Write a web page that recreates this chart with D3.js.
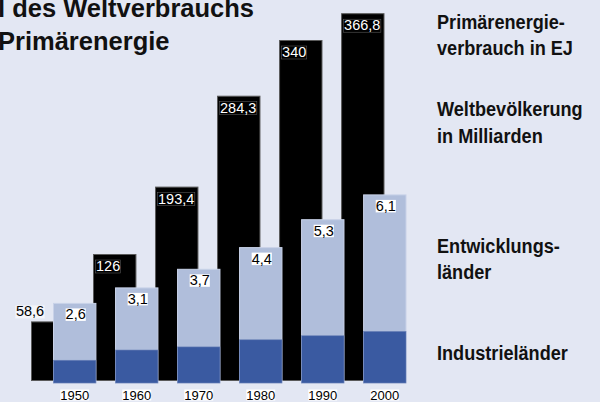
<!DOCTYPE html>
<html><head><meta charset="utf-8">
<script src="https://cdn.jsdelivr.net/npm/d3@7"></script>
<style>
html,body{margin:0;padding:0;background:#e3e7f3;}
svg{display:block;}
</style></head>
<body>
<script>
const years = ["1950","1960","1970","1980","1990","2000"];
const energy = [58.6, 126, 193.4, 284.3, 340, 366.8];
const population = [2.6, 3.1, 3.7, 4.4, 5.3, 6.1];
const industrial = [0.75, 1.08, 1.18, 1.41, 1.54, 1.68];
const energyLabels = ["58,6","126","193,4","284,3","340","366,8"];
const popLabels = ["2,6","3,1","3,7","4,4","5,3","6,1"];
const titleLines = ["l des Weltverbrauchs", "Primärenergie"];
const legendEnergy = ["Primärenergie-", "verbrauch in EJ"];
const legendPop = ["Weltbevölkerung", "in Milliarden"];
const legendDev = ["Entwicklungs-", "länder"];
const legendInd = ["Industrieländer"];

const W = 600, H = 402;
const svg = d3.select("body").append("svg").attr("width", W).attr("height", H);
svg.append("rect").attr("width", W).attr("height", H).attr("fill", "#e3e7f3");

const x = d3.scaleBand().domain(years).range([53, 406.5]).paddingInner(0.3).paddingOuter(0);
const bw = x.bandwidth();
const offset = 22;
const yE = d3.scaleLinear().domain([0, 380]).range([380, 0]);
const yP = d3.scaleLinear().domain([0, 10]).range([383.5, 383.5 - 310]);

// black energy bars
svg.selectAll("rect.energy").data(years).join("rect")
  .attr("class","energy")
  .attr("x", d => x(d) - offset + 0.5)
  .attr("y", (d,i) => yE(energy[i]) + 0.5)
  .attr("width", bw - 1)
  .attr("height", (d,i) => yE(0) - yE(energy[i]))
  .attr("fill", "#000").attr("stroke", "#5a5a5a").attr("stroke-width", 1);

// energy labels
years.forEach((yr, i) => {
  const left = x(yr) - offset;
  const top = yE(energy[i]);
  const inside = energy[i] > 100;
  const g = svg.append("g");
  const t = g.append("text")
    .attr("font-family", "Liberation Sans, Arial, sans-serif")
    .attr("font-size", 14.5)
    .text(energyLabels[i]);
  if (inside) {
    t.attr("x", left + 3).attr("y", top + 17).attr("fill", "#fff");
    const bb = t.node().getBBox();
    g.insert("rect", "text").attr("x", bb.x - 0.5).attr("y", top + 6)
      .attr("width", bb.width + 1).attr("height", 13)
      .attr("fill", "#000").attr("stroke", "#666").attr("stroke-width", 0.5);
  } else {
    t.attr("x", left - 1).attr("y", top - 5).attr("text-anchor", "middle").attr("fill", "#000");
    const bb = t.node().getBBox();
    g.insert("rect", "text").attr("x", bb.x - 0.5).attr("y", top - 16)
      .attr("width", bb.width + 1).attr("height", 13)
      .attr("fill", "#f4f5fa");
  }
});

// population bars (light = developing, dark = industrial)
svg.selectAll("rect.pop").data(years).join("rect")
  .attr("class","pop")
  .attr("x", d => x(d) + 0.5)
  .attr("y", (d,i) => yP(population[i]) + 0.5)
  .attr("width", bw - 1)
  .attr("height", (d,i) => yP(0) - yP(population[i]) - 1)
  .attr("fill", "#b0bedb").attr("stroke", "#c9d2e8").attr("stroke-width", 1);

svg.selectAll("rect.ind").data(years).join("rect")
  .attr("class","ind")
  .attr("x", d => x(d) + 0.5)
  .attr("y", (d,i) => yP(industrial[i]))
  .attr("width", bw - 1)
  .attr("height", (d,i) => yP(0) - yP(industrial[i]) - 0.5)
  .attr("fill", "#3a5aa1").attr("stroke", "#6b82b8").attr("stroke-width", 0.6);

// population labels
years.forEach((yr, i) => {
  const cx = x(yr) + bw / 2 + 1;
  const top = yP(population[i]);
  const g = svg.append("g");
  const t = g.append("text")
    .attr("x", cx).attr("y", top + 16.5)
    .attr("text-anchor", "middle")
    .attr("font-family", "Liberation Sans, Arial, sans-serif")
    .attr("font-size", 14.5).attr("fill", "#000")
    .text(popLabels[i]);
  const bb = t.node().getBBox();
  g.insert("rect", "text").attr("x", bb.x).attr("y", top + 5.5)
    .attr("width", bb.width).attr("height", 12.5).attr("fill", "#fff");
});

// year axis labels
years.forEach(yr => {
  const g = svg.append("g");
  const t = g.append("text")
    .attr("x", x(yr) + bw / 2).attr("y", 399.5)
    .attr("text-anchor", "middle")
    .attr("font-family", "Liberation Sans, Arial, sans-serif")
    .attr("font-size", 13).attr("fill", "#000")
    .text(yr);
  const bb = t.node().getBBox();
  g.insert("rect", "text").attr("x", bb.x).attr("y", 389.5)
    .attr("width", bb.width).attr("height", 11).attr("fill", "#fff");
});

// title
svg.append("g").selectAll("text").data(titleLines).join("text")
  .attr("x", -2).attr("y", (d,i) => 17 + i * 33)
  .attr("font-family", "Liberation Sans, Arial, sans-serif")
  .attr("font-weight", "bold").attr("font-size", 25.5).attr("fill", "#111")
  .text(d => d);

// legend texts (condensed look via horizontal scale)
function legend(lines, y0) {
  const g = svg.append("g").attr("transform", `translate(437,${y0}) scale(0.93,1)`);
  g.selectAll("text").data(lines).join("text")
    .attr("x", 0).attr("y", (d,i) => i * 27)
    .attr("font-family", "Liberation Sans, Arial, sans-serif")
    .attr("font-weight", "bold").attr("font-size", 19.5).attr("fill", "#111")
    .text(d => d);
}
legend(legendEnergy, 28.5);
legend(legendPop, 116);
legend(legendDev, 252.5);
legend(legendInd, 360);
</script>
</body></html>
